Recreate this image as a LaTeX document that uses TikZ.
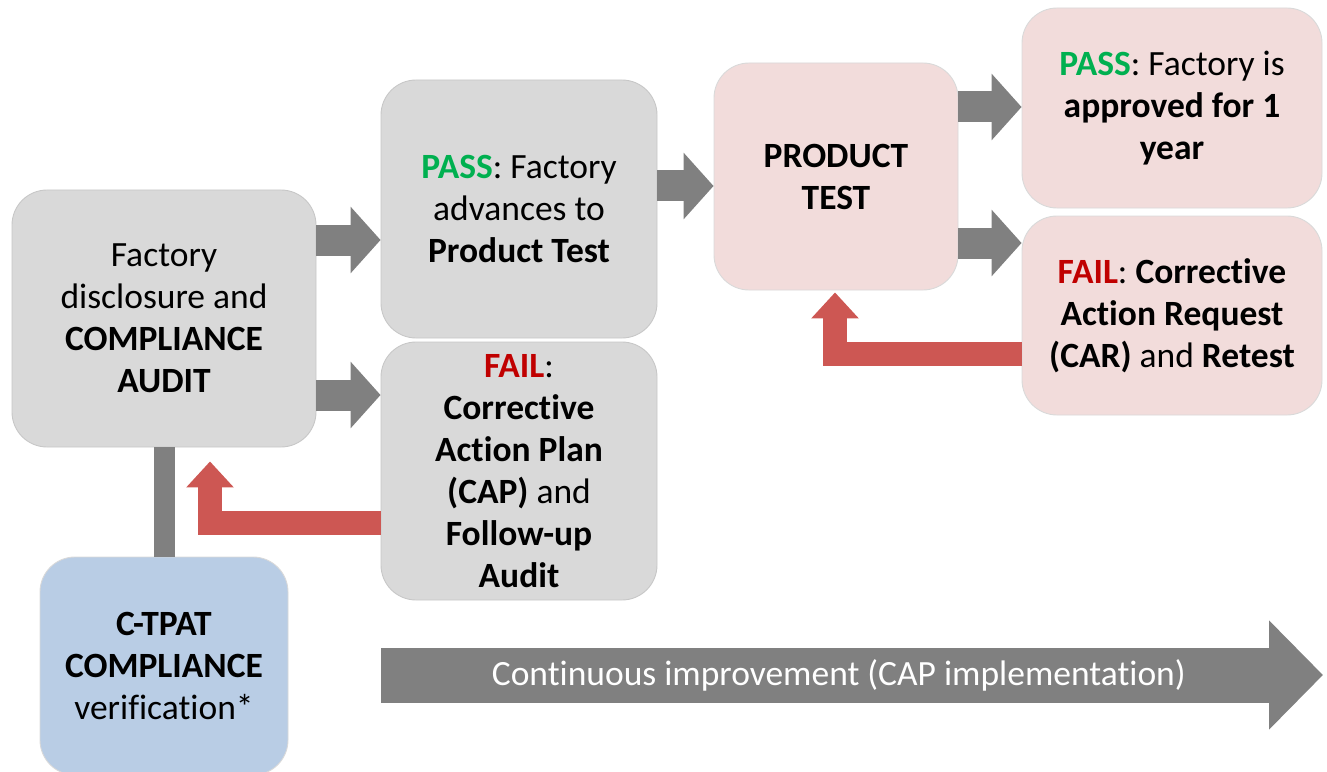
\documentclass[tikz,border=0pt]{standalone}
\usepackage{fontspec}
\setmainfont{Carlito}[Ligatures=NoCommon]
\usepackage{xcolor}
\usetikzlibrary{arrows.meta,positioning}
\definecolor{boxgray}{HTML}{D9D9D9}
\definecolor{boxpink}{HTML}{F2DCDB}
\definecolor{boxblue}{HTML}{B9CDE5}
\definecolor{arrowgray}{HTML}{808080}
\definecolor{backred}{HTML}{CD5753}
\definecolor{passgreen}{HTML}{00B050}
\definecolor{failred}{HTML}{C00000}
\newcommand{\boxfont}{\fontsize{20.2}{23.9}\selectfont}
\newcommand{\pass}{\textcolor{passgreen}{\textbf{PASS}}}
\newcommand{\fail}{\textcolor{failred}{\textbf{FAIL}}}
\tikzstyle{box} = [rectangle, rounded corners=0.7cm, draw=black!22, line width=0.5pt, align=center, font=\boxfont, inner sep=0pt]
\tikzstyle{graybox} = [box, fill=boxgray]
\tikzstyle{pinkbox} = [box, fill=boxpink, draw=black!15]
\tikzstyle{bluebox} = [box, fill=boxblue, draw=black!15]
\tikzstyle{arrow} = [line width=0.62cm, draw=arrowgray, -{Triangle[length=0.6cm,width=1.3cm]}]
\tikzstyle{backarrow} = [line width=0.49cm, draw=backred, -{Triangle[length=0.52cm,width=0.92cm]}]
\begin{document}
\begin{tikzpicture}
  \useasboundingbox (0,0) rectangle (26.54,-15.42);
  \clip (0,0) rectangle (26.54,-15.42);

  % audit stage
  \node[graybox, minimum width=6.08cm, minimum height=5.14cm] (audit) at (3.28,-6.37)
      {Factory\\disclosure and\\\textbf{COMPLIANCE}\\\textbf{AUDIT}};
  \node[graybox, minimum width=5.52cm, minimum height=5.16cm] (pass) at (10.38,-4.18)
      {\pass: Factory\\advances to\\\textbf{Product Test}};
  \node[graybox, minimum width=5.52cm, minimum height=5.16cm] (fail) at (10.38,-9.42)
      {\fail:\\\textbf{Corrective}\\\textbf{Action Plan}\\\textbf{(CAP)} and\\\textbf{Follow-up}\\\textbf{Audit}};
  \node[bluebox, minimum width=4.96cm, minimum height=4.36cm] (ctpat) at (3.28,-13.32)
      {\textbf{C-TPAT}\\\textbf{COMPLIANCE}\\verification*};

  % product test stage
  \node[pinkbox, minimum width=4.88cm, minimum height=4.54cm] (product) at (16.72,-3.53)
      {\textbf{PRODUCT}\\\textbf{TEST}};
  \node[pinkbox, minimum width=6cm, minimum height=4cm] (pass2) at (23.44,-2.16)
      {\pass: Factory is\\\textbf{approved for 1}\\\textbf{year}};
  \node[pinkbox, minimum width=6cm, minimum height=3.98cm] (fail2) at (23.44,-6.31)
      {\fail: \textbf{Corrective}\\\textbf{Action Request}\\\textbf{(CAR)} and \textbf{Retest}};

  % forward arrows
  \coordinate (a1) at ([yshift=1.57cm]audit.east);
  \coordinate (a2) at ([yshift=-1.53cm]audit.east);
  \coordinate (p1) at ([yshift=0.46cm]pass.east);
  \coordinate (q1) at ([yshift=1.39cm]product.east);
  \coordinate (q2) at ([yshift=-1.33cm]product.east);
  \draw[arrow] (a1) -- (a1 -| pass.west);
  \draw[arrow] (a2) -- (a2 -| fail.west);
  \draw[arrow] (p1) -- (p1 -| product.west);
  \draw[arrow] (q1) -- (q1 -| pass2.west);
  \draw[arrow] (q2) -- (q2 -| fail2.west);

  % link to verification
  \draw[line width=0.42cm, draw=arrowgray] (audit.south) -- (ctpat.north);

  % retest loops
  \coordinate (r1) at ([yshift=-1.04cm]fail.west);
  \coordinate (r2) at ([xshift=0.92cm,yshift=-0.28cm]audit.south);
  \draw[backarrow] (r1) -| (r2);
  \coordinate (r3) at ([yshift=-0.77cm]fail2.west);
  \coordinate (r4) at ([xshift=-0.02cm,yshift=-0.04cm]product.south);
  \draw[backarrow] (r3) -| (r4);

  % continuous improvement
  \coordinate (b1) at (7.62,-13.5);
  \coordinate (b2) at (26.46,-13.5);
  \draw[line width=1.1cm, draw=arrowgray, -{Triangle[length=1.08cm,width=2.12cm]}] (b1) -- (b2)
      node[pos=0.486, text=white, font=\boxfont] (cont) {Continuous improvement (CAP implementation)};
\end{tikzpicture}
\end{document}
